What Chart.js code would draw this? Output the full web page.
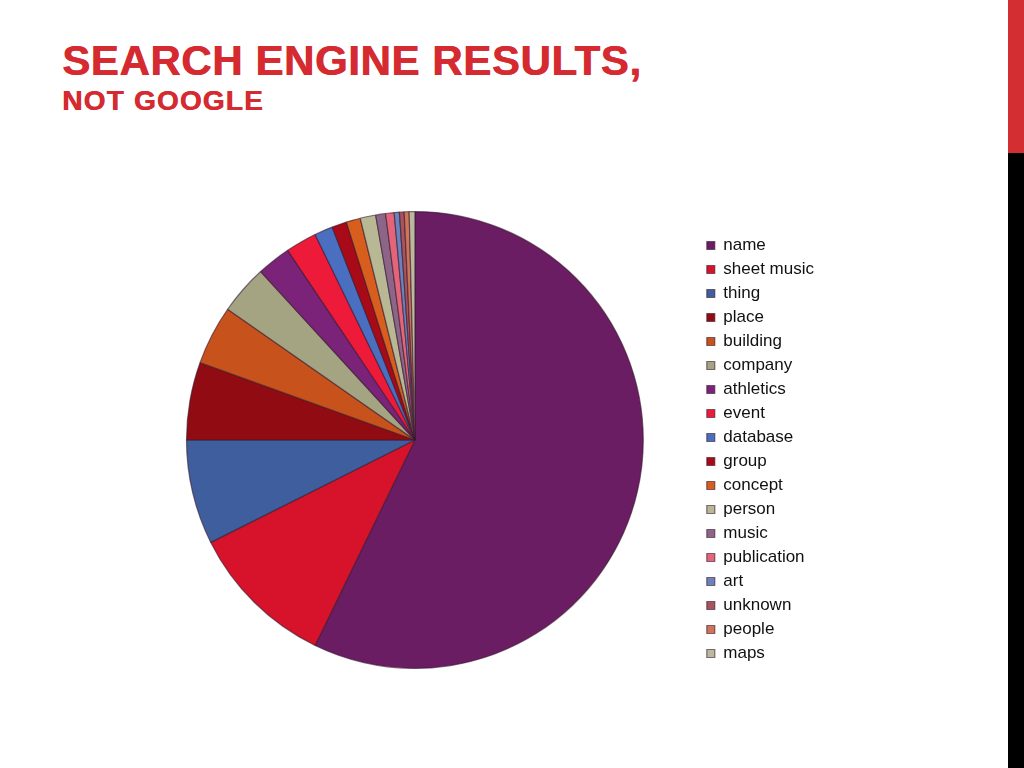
<!DOCTYPE html>
<html>
<head>
<meta charset="utf-8">
<script src="https://cdn.jsdelivr.net/npm/chart.js@4"></script>
<style>
  html, body { margin: 0; padding: 0; background: #fff; }
  #page { position: relative; width: 1024px; height: 768px; overflow: hidden; }
  .t1, .t2 { position: absolute; left: 62px; color: #d42a30; font-family: "Liberation Sans", Arial, sans-serif; font-weight: bold; white-space: nowrap; text-shadow: 0.7px 0 0 #d42a30; }
  .t1 { top: 37px; font-size: 42px; letter-spacing: 0.6px; }
  .t2 { top: 85px; font-size: 28px; letter-spacing: 1.2px; }
  .bar-red { position: absolute; left: 1008px; top: 0; width: 16px; height: 153px; background: #d32f33; }
  .bar-black { position: absolute; left: 1008px; top: 153px; width: 16px; height: 615px; background: #000; }
  #wrap { position: absolute; left: 0; top: 0; width: 1008px; height: 768px; }
</style>
</head>
<body>
<div id="page">
  <div class="t1">SEARCH ENGINE RESULTS,</div>
  <div class="t2">NOT GOOGLE</div>
  <div class="bar-red"></div>
  <div class="bar-black"></div>
  <div id="wrap"><canvas id="pie"></canvas></div>
</div>
<script>
// 검색 결과 유형 (%), 12시 방향부터 시계방향
const categories = ["name", "sheet music", "thing", "place", "building", "company", "athletics", "event",
  "database", "group", "concept", "person", "music", "publication", "art", "unknown", "people", "maps"]
const shares = [57.2, 10.4, 7.4, 5.5, 4.2, 3.5, 2.4, 2.2, 1.3, 1.05, 1.0, 1.1, 0.7, 0.6, 0.37, 0.33, 0.35, 0.4]
const colors = ["#6b1d63", "#d7132b", "#3f5e9e", "#900c12", "#c8521b", "#a5a482",
  "#7b2378", "#ee1a3a", "#4a6ec0", "#a80a18", "#d85e1e", "#b8b895",
  "#8d6588", "#e3657a", "#6a83be", "#a6545e", "#cf7458", "#bab99e"]

new Chart(document.getElementById("pie"), {
  type: "pie",
  data: {
    labels: categories,
    datasets: [{
      data: shares,
      backgroundColor: colors,
      borderColor: "rgba(55,25,45,0.6)",
      borderWidth: 1.2,
    }],
  },
  options: {
    responsive: true,
    maintainAspectRatio: false,
    animation: false,
    layout: { padding: { top: 211, bottom: 99, left: 130, right: 184 } },
    plugins: {
      tooltip: { enabled: false },
      legend: {
        position: "right",
        align: "end",
        labels: {
          boxWidth: 8,
          boxHeight: 8,
          padding: 7,
          color: "#111",
          font: { family: "'Liberation Sans', Arial, sans-serif", size: 17 },
        },
      },
    },
  },
})
</script>
</body>
</html>
